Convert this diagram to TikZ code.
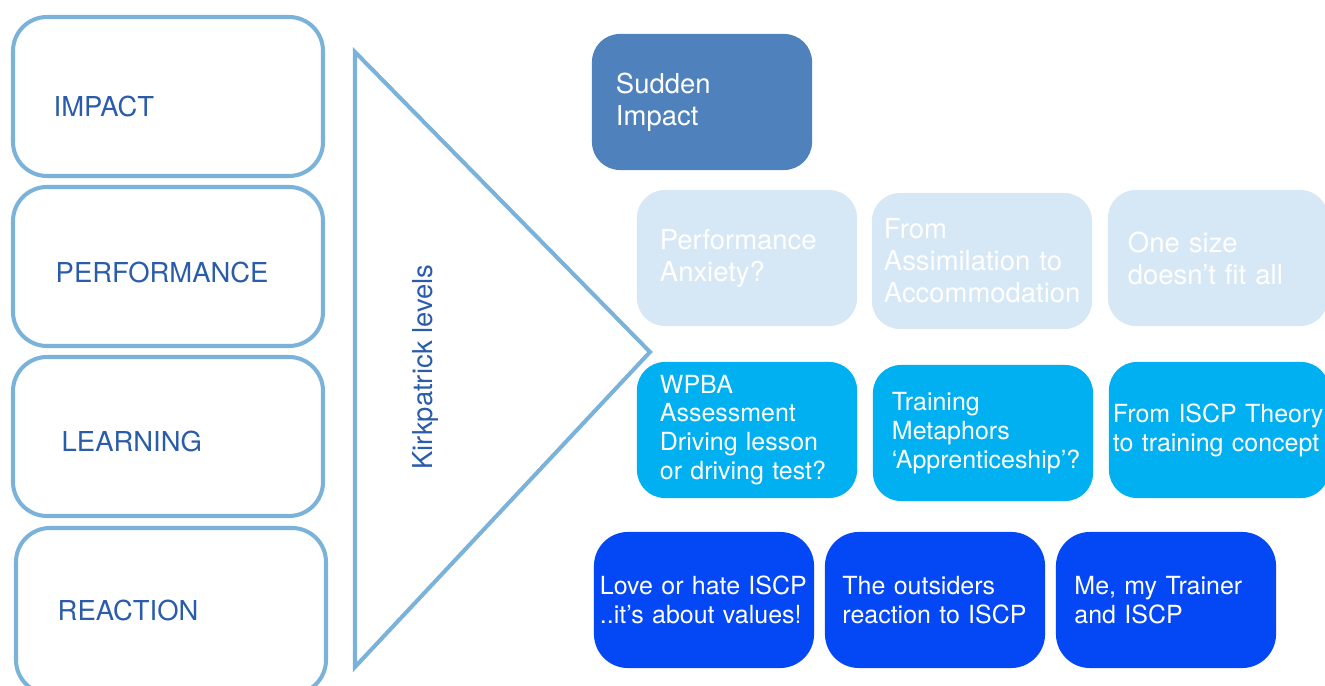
\documentclass[tikz,border=0pt]{standalone}
\usepackage{fontspec}
\setmainfont{TeX Gyre Heros}
\usepackage{tikz}
\definecolor{levelblue}{HTML}{7AB2DA}
\definecolor{labelblue}{HTML}{2A5CAA}
\definecolor{impactblue}{HTML}{4F81BD}
\definecolor{paleblue}{HTML}{D6E7F5}
\definecolor{skyblue}{HTML}{00B0F0}
\definecolor{royalblue}{HTML}{0447F4}
\newcommand{\lgfont}    {\fontsize{7.8}{9.1}\selectfont}
\newcommand{\smfont}    {\fontsize{7.1}{8.2}\selectfont}

\begin{document}
\begin{tikzpicture}[x=0.01cm,y=-0.01cm,
    outline/.style={draw=levelblue,line width=1.15pt},
    level/.style={outline,rounded corners=0.34cm},
    levelname/.style={anchor=west,inner sep=0pt,text=labelblue,font=\lgfont},
    card/.style={rounded corners=0.28cm,minimum width=2.2cm,minimum height=1.36cm,
                 inner sep=0pt,align=left,text=white}]
       \clip (0,0) rectangle (1325,686);
       % Kirkpatrick levels, left column
       \draw[level] (13,17) rectangle (323,176);
       \draw[level] (13,187) rectangle (323,346);
       \draw[level] (13,357) rectangle (323,516);
       \draw[level] (16,528) rectangle (326,694);
       \node[levelname] (impact) at (53,107) {IMPACT};
       \node[levelname] (performance) at (55,273) {PERFORMANCE};
       \node[levelname] (learning) at (61,442) {LEARNING};
       \node[levelname] (reaction) at (57,611) {REACTION};
       \draw[outline] (355,52) -- (650,352) -- (355,667) -- cycle;
       \node[rotate=90,text=labelblue,font=\lgfont] (kirkpatrick) at (425,367) {Kirkpatrick levels};
       % impact
       \node[card,fill=impactblue,font=\lgfont,text width=1.72cm] (sudden) at (702,102)
         {Sudden\\Impact};
       % performance
       \node[card,fill=paleblue,font=\lgfont,text width=1.74cm] (anxiety) at (747,258)
         {Performance\\Anxiety?};
       \node[card,fill=paleblue,font=\lgfont,text width=1.96cm] (assimilation) at (982,261)
         {From\\Assimilation~to\\Accommodation};
       \node[card,fill=paleblue,font=\lgfont,text width=1.8cm] (onesize) at (1218,258)
         {One size\\doesn’t~fit~all};
       % learning
       \node[card,fill=skyblue,font=\smfont,text width=1.74cm] (wpba) at (747,430)
         {WPBA\\Assessment\\Driving~lesson\\or~driving~test?};
       \node[card,fill=skyblue,font=\smfont,text width=1.82cm] (metaphors) at (983,433)
         {Training\\Metaphors\\‘Apprenticeship’?};
       \node[card,fill=skyblue,font=\smfont,text width=2.12cm] (theory) at (1219,430)
         {From~ISCP~Theory\\to~training~concept};
       % reaction
       \node[card,fill=royalblue,font=\smfont,text width=2.08cm,rounded corners=0.34cm] (lovehate) at (704,600)
         {Love~or~hate~ISCP\\..it’s~about~values!};
       \node[card,fill=royalblue,font=\smfont,text width=1.85cm,rounded corners=0.34cm] (outsiders) at (935,600)
         {The~outsiders\\reaction~to~ISCP};
       \node[card,fill=royalblue,font=\smfont,text width=1.83cm,rounded corners=0.34cm] (trainer) at (1166,600)
         {Me,~my~Trainer\\and~ISCP};
      \end{tikzpicture}
\end{document}
